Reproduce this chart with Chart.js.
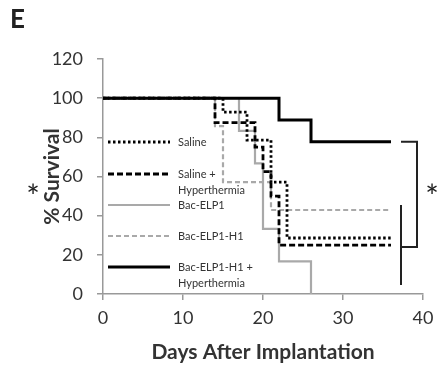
<!DOCTYPE html>
<html>
<head>
<meta charset="utf-8">
<script src="https://cdn.jsdelivr.net/npm/chart.js@4"></script>
<style>
  body { margin: 0; background: #fff; }
  #wrap { position: relative; width: 444px; height: 371px; }
</style>
</head>
<body>
<div id="wrap"><canvas id="survChart"></canvas></div>
<script>
// survival curves (day of drop, % survival after it)
const salineDays = [0, 15, 18, 21, 23, 36];
const salineSurv = [100, 92.9, 78.6, 57.1, 28.6, 28.6];
const salineHypDays = [0, 14, 19, 20, 21, 22, 36];
const salineHypSurv = [100, 87.5, 75, 62.5, 50, 25, 25];
const elpDays = [0, 17, 19, 20, 22, 26];
const elpSurv = [100, 83.3, 66.7, 33.3, 16.7, 0];
const elpH1Days = [0, 14, 15, 21, 36];
const elpH1Surv = [100, 85.7, 57.1, 42.9, 42.9];
const elpH1HypDays = [0, 22, 26, 36];
const elpH1HypSurv = [100, 88.9, 77.8, 77.8];

// significance bracket
const bracketDays = [37.25, 39.25, 39.25, 37.25];
const bracketSurv = [77.8, 77.8, 24, 24];
const barDays = [37.25, 37.25];
const barSurv = [45.4, 4.6];

const xTicks = [0, 10, 20, 30, 40];
const yTicks = [0, 20, 40, 60, 80, 100, 120];

const GRAY = '#a9a9a9';
const FONT = 'Lato, "Open Sans", sans-serif';

const pts = (xs, ys) => xs.map((x, i) => ({ x: x, y: ys[i] }));

const legendItems = [
    { lines: ['Saline'], color: '#000', dash: [2.5, 2.5], width: 2.8 },
    { lines: ['Saline +', 'Hyperthermia'], color: '#000', dash: [6, 3], width: 2.8 },
    { lines: ['Bac-ELP1'], color: GRAY, dash: [], width: 2.2 },
    { lines: ['Bac-ELP1-H1'], color: GRAY, dash: [5, 3], width: 2.2 },
    { lines: ['Bac-ELP1-H1 +', 'Hyperthermia'], color: '#000', dash: [], width: 2.8 }
];
const legendY = [142, 174, 205, 236, 267];

const extras = {
    id: 'extras',
    afterDraw(chart) {
        const ctx = chart.ctx;
        ctx.save();
        // legend
        legendItems.forEach((it, i) => {
            const y = legendY[i];
            ctx.strokeStyle = it.color;
            ctx.lineWidth = it.width;
            ctx.setLineDash(it.dash);
            ctx.beginPath();
            ctx.moveTo(108, y);
            ctx.lineTo(170, y);
            ctx.stroke();
            ctx.setLineDash([]);
            ctx.fillStyle = '#333';
            ctx.font = '11px ' + FONT;
            ctx.textBaseline = 'middle';
            ctx.textAlign = 'left';
            it.lines.forEach((t, j) => ctx.fillText(t, 178, y + j * 16));
        });
        // panel letter and asterisks
        ctx.fillStyle = '#222';
        ctx.font = 'bold 26px ' + FONT;
        ctx.fillText('E', 10, 20);
        ctx.font = '32px ' + FONT;
        ctx.textAlign = 'center';
        ctx.fillText('*', 33, 198);
        ctx.fillText('*', 432, 198);
        ctx.restore();
    }
};

new Chart(document.getElementById('survChart').getContext('2d'), {
    type: 'line',
    data: {
        datasets: [
            { label: 'Bac-ELP1-H1 + Hyperthermia', data: pts(elpH1HypDays, elpH1HypSurv), borderColor: '#000', borderWidth: 3, stepped: 'before' },
            { label: 'Saline', data: pts(salineDays, salineSurv), borderColor: '#000', borderWidth: 2.8, borderDash: [2.5, 2.5], stepped: 'before' },
            { label: 'Saline + Hyperthermia', data: pts(salineHypDays, salineHypSurv), borderColor: '#000', borderWidth: 2.8, borderDash: [6, 3], stepped: 'before' },
            { label: 'Bac-ELP1-H1', data: pts(elpH1Days, elpH1Surv), borderColor: GRAY, borderWidth: 2.2, borderDash: [5, 3], stepped: 'before' },
            { label: 'Bac-ELP1', data: pts(elpDays, elpSurv), borderColor: GRAY, borderWidth: 2.2, stepped: 'before' },
            { label: 'bracket', data: pts(bracketDays, bracketSurv), borderColor: '#222', borderWidth: 2 },
            { label: 'bar', data: pts(barDays, barSurv), borderColor: '#222', borderWidth: 2 }
        ]
    },
    options: {
        responsive: true,
        maintainAspectRatio: false,
        animation: false,
        events: [],
        elements: { point: { radius: 0 }, line: { tension: 0, fill: false, borderCapStyle: 'butt' } },
        layout: { padding: { top: 59, right: 21, left: 0, bottom: 0 } },
        plugins: { legend: { display: false }, tooltip: { enabled: false } },
        scales: {
            x: {
                type: 'linear',
                min: 0, max: 40,
                afterBuildTicks: s => { s.ticks = xTicks.map(v => ({ value: v })); },
                afterFit: s => { s.height = 77; },
                border: { display: true, color: '#999', width: 1.5 },
                grid: { display: true, drawOnChartArea: false, drawTicks: true, tickLength: 6, color: '#999', lineWidth: 1.5 },
                ticks: { color: '#333', font: { family: FONT, size: 18 }, padding: 7 },
                title: { display: true, text: 'Days After Implantation', color: '#333', font: { family: FONT, size: 21, weight: 'bold' }, padding: { top: 0, bottom: 6 } }
            },
            y: {
                min: 0, max: 120,
                afterBuildTicks: s => { s.ticks = yTicks.map(v => ({ value: v })); },
                afterFit: s => { s.width = 103; },
                border: { display: true, color: '#999', width: 1.5 },
                grid: { display: true, drawOnChartArea: false, drawTicks: true, tickLength: 6, color: '#999', lineWidth: 1.5 },
                ticks: { color: '#333', font: { family: FONT, size: 18 }, padding: 14 },
                title: { display: true, text: '% Survival', color: '#333', font: { family: FONT, size: 21, weight: 'bold' }, padding: { top: 40, bottom: 0 } }
            }
        }
    },
    plugins: [extras]
});
</script>
</body>
</html>
